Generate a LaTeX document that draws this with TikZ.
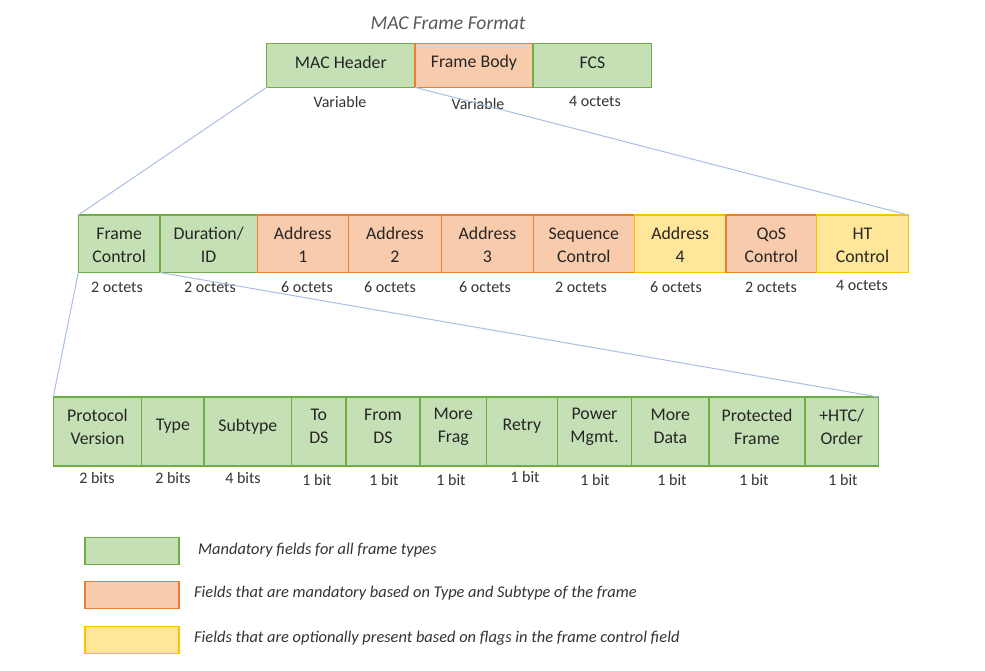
\documentclass[tikz,border=0pt]{standalone}
\usepackage{fontspec}
\setmainfont{Carlito}
\definecolor{gfill}{HTML}{C5E0B4}
\definecolor{gline}{HTML}{70AD47}
\definecolor{ofill}{HTML}{F8CBAD}
\definecolor{oline}{HTML}{ED7D31}
\definecolor{yfill}{HTML}{FFE699}
\definecolor{yline}{HTML}{FFC000}
\definecolor{txt}{HTML}{262626}
\definecolor{lbltxt}{HTML}{333333}
\definecolor{ttl}{HTML}{595959}
\definecolor{connc}{HTML}{A9BFE4}
% \fieldcell{style}{name}{x}{y}{width}{height}{shift up}{text}
\newcommand{\fieldcell}[8]{%
  \node[#1, minimum width=#5, minimum height=#6] (#2) at (#3,#4) {};
  \node[celltext] (#2-t) at ([yshift=#7pt]#2.center) {#8};}
\begin{document}
\begin{tikzpicture}[x=1pt,y=-1pt,
  cell/.style={draw, line width=1.4pt, inner sep=0pt, outer sep=0pt, anchor=north west},
  celltext/.style={inner sep=0pt, align=center, font=\fontsize{17.8}{23}\selectfont, text=txt},
  gcell/.style={cell, fill=gfill, draw=gline},
  ocell/.style={cell, fill=ofill, draw=oline},
  ycell/.style={cell, fill=yfill, draw=yline},
  lbl/.style={font=\fontsize{16}{19}\selectfont, text=lbltxt, inner sep=0pt},
  conn/.style={draw=connc, line width=1pt},
  leg/.style={font=\fontsize{16.4}{19}\selectfont\itshape, text=lbltxt, anchor=west, inner sep=0pt}]
\useasboundingbox (0,0) rectangle (985,670);

% title
\node[font=\fontsize{19.6}{22}\selectfont\itshape, text=ttl] (title) at (448,23) {MAC Frame Format};

% row 1
\fieldcell{gcell}{mh}{266.7}{43.3}{148.3}{44}{3}{MAC Header}
\fieldcell{ocell}{fb}{415}{43.3}{118}{44}{3}{Frame Body}
\fieldcell{gcell}{fcs}{533}{43.3}{118.7}{44}{3}{FCS}
\node[lbl] (l1a) at (340,102) {Variable};
\node[lbl] (l1b) at (478,104) {Variable};
\node[lbl] (l1c) at (595,101) {4 octets};

% row 2
\def\hB{57.5}
\def\yB{215}
\def\sB{-1.5}
\fieldcell{gcell}{fc}{78.3}{\yB}{81.7}{\hB}{\sB}{Frame\\Control}
\fieldcell{gcell}{dur}{160}{\yB}{97.3}{\hB}{\sB}{Duration/\\ID}
\fieldcell{ocell}{a1}{257.3}{\yB}{91}{\hB}{\sB}{Address\\1}
\fieldcell{ocell}{a2}{348.3}{\yB}{93.4}{\hB}{\sB}{Address\\2}
\fieldcell{ocell}{a3}{441.7}{\yB}{91.6}{\hB}{\sB}{Address\\3}
\fieldcell{ocell}{sc}{533.3}{\yB}{101}{\hB}{\sB}{Sequence\\Control}
\fieldcell{ycell}{a4}{634.3}{\yB}{91.7}{\hB}{\sB}{Address\\4}
\fieldcell{ocell}{qos}{726}{\yB}{90.7}{\hB}{\sB}{QoS\\Control}
\fieldcell{ycell}{ht}{816.7}{\yB}{91.6}{\hB}{\sB}{HT\\Control}
\node[lbl] (l2a) at (117,287) {2 octets};
\node[lbl] (l2b) at (210,287) {2 octets};
\node[lbl] (l2c) at (307,287) {6 octets};
\node[lbl] (l2d) at (390,287) {6 octets};
\node[lbl] (l2e) at (485,287) {6 octets};
\node[lbl] (l2f) at (581,287) {2 octets};
\node[lbl] (l2g) at (676,287) {6 octets};
\node[lbl] (l2h) at (771,287) {2 octets};
\node[lbl] (l2i) at (862,285) {4 octets};

% row 3
\def\hC{69}
\def\yC{397}
\def\sC{5}
\fieldcell{gcell}{pv}{53.3}{\yC}{88.4}{\hC}{\sC}{Protocol\\Version}
\fieldcell{gcell}{ty}{141.7}{\yC}{62.3}{\hC}{\sC}{Type}
\fieldcell{gcell}{st}{204}{\yC}{87.7}{\hC}{\sC}{Subtype}
\fieldcell{gcell}{tds}{291.7}{\yC}{54.3}{\hC}{\sC}{To\\DS}
\fieldcell{gcell}{fds}{346}{\yC}{74}{\hC}{\sC}{From\\DS}
\fieldcell{gcell}{mf}{420}{\yC}{66.5}{\hC}{\sC}{More\\Frag}
\fieldcell{gcell}{re}{486.5}{\yC}{70.8}{\hC}{\sC}{Retry}
\fieldcell{gcell}{pm}{557.3}{\yC}{74.4}{\hC}{\sC}{Power\\Mgmt.}
\fieldcell{gcell}{md}{631.7}{\yC}{77.3}{\hC}{\sC}{More\\Data}
\fieldcell{gcell}{pf}{709}{\yC}{96}{\hC}{\sC}{Protected\\Frame}
\fieldcell{gcell}{ho}{805}{\yC}{73.3}{\hC}{\sC}{+HTC/\\Order}
\node[lbl] (l3a) at (97,478) {2 bits};
\node[lbl] (l3b) at (173,478) {2 bits};
\node[lbl] (l3c) at (243,478) {4 bits};
\node[lbl] (l3d) at (317,480) {1 bit};
\node[lbl] (l3e) at (384,480) {1 bit};
\node[lbl] (l3f) at (451,480) {1 bit};
\node[lbl] (l3g) at (525,477) {1 bit};
\node[lbl] (l3h) at (595,480) {1 bit};
\node[lbl] (l3i) at (672,480) {1 bit};
\node[lbl] (l3j) at (754,480) {1 bit};
\node[lbl] (l3k) at (843,480) {1 bit};

% connectors
\draw[conn] (mh.south west) -- (fc.north west);
\draw[conn] (fb.south west) -- (ht.north east);
\draw[conn] (fc.south west) -- (pv.north west);
\draw[conn] (dur.south west) -- (ho.north east);

% legend
\node[gcell, minimum width=94, minimum height=27] (lg) at (85,537.5) {};
\node[ocell, minimum width=94, minimum height=27] (lo) at (85,581.5) {};
\node[ycell, minimum width=94, minimum height=27] (ly) at (85,626.5) {};
\node[leg] (lgt) at (198,550.5) {Mandatory fields for all frame types};
\node[leg] (lot) at (194,593) {Fields that are mandatory based on Type and Subtype of the frame};
\node[leg] (lyt) at (194,638) {Fields that are optionally present based on flags in the frame control field};
\end{tikzpicture}
\end{document}
